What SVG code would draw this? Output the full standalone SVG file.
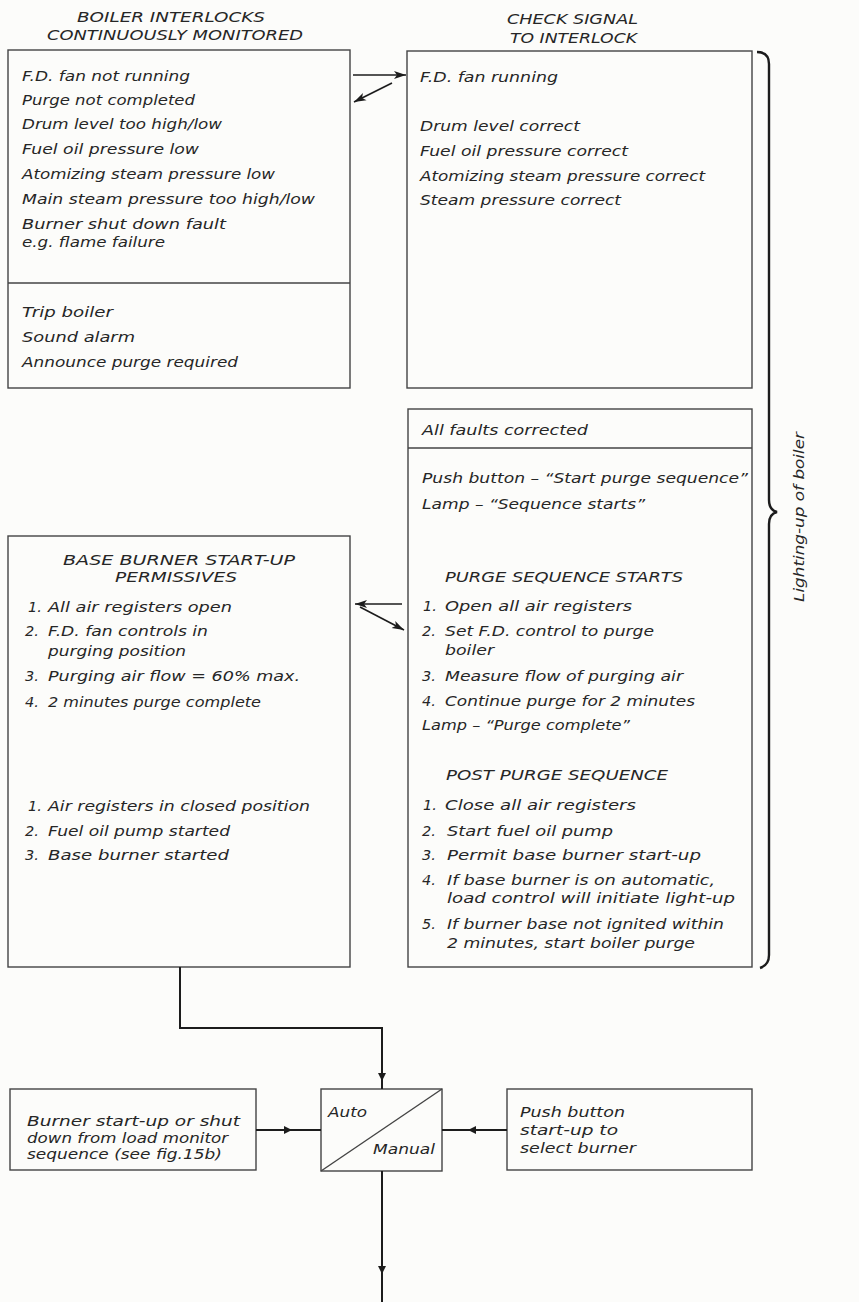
<svg xmlns="http://www.w3.org/2000/svg" width="859" height="1302" viewBox="0 0 859 1302">
<style>
.t{font-family:"DejaVu Sans","Liberation Sans",sans-serif;font-style:italic;font-size:14.5px;fill:#262626}
.s{font-size:13.5px}
.box{fill:none;stroke:#444;stroke-width:1.4}
.conn{stroke:#1c1c1c;stroke-width:2;fill:none}
.thin{stroke:#1c1c1c;stroke-width:1.6;fill:none}
.brace{stroke:#1c1c1c;stroke-width:2.4;fill:none}
.head{fill:#1c1c1c}
.mid{text-anchor:middle}
</style>
<defs>
<marker id="ah" viewBox="0 0 12 10" refX="12" refY="5" markerWidth="12" markerHeight="10" markerUnits="userSpaceOnUse" orient="auto">
<path d="M0,1 L12,5 L0,9 L3,5 Z" fill="#1c1c1c"/>
</marker>
</defs>
<rect x="0" y="0" width="859" height="1302" fill="#fcfcfa"/>

<g id="title-interlocks">
<text class="t mid" x="171" y="22" textLength="188" lengthAdjust="spacingAndGlyphs">BOILER INTERLOCKS</text>
<text class="t mid" x="175" y="40" textLength="256" lengthAdjust="spacingAndGlyphs">CONTINUOUSLY MONITORED</text>
</g>
<g id="title-check">
<text class="t" x="507" y="24" textLength="131" lengthAdjust="spacingAndGlyphs">CHECK SIGNAL</text>
<text class="t" x="510" y="43" textLength="127" lengthAdjust="spacingAndGlyphs">TO INTERLOCK</text>
</g>

<g id="interlocks">
<rect class="box" x="8" y="50" width="342" height="338"/>
<line class="box" x1="8" y1="283" x2="350" y2="283"/>
<text class="t" x="22" y="81" textLength="168" lengthAdjust="spacingAndGlyphs">F.D. fan not running</text>
<text class="t" x="22" y="105" textLength="173" lengthAdjust="spacingAndGlyphs">Purge not completed</text>
<text class="t" x="22" y="129" textLength="200" lengthAdjust="spacingAndGlyphs">Drum level too high/low</text>
<text class="t" x="22" y="154" textLength="177" lengthAdjust="spacingAndGlyphs">Fuel oil pressure low</text>
<text class="t" x="22" y="179" textLength="253" lengthAdjust="spacingAndGlyphs">Atomizing steam pressure low</text>
<text class="t" x="22" y="204" textLength="293" lengthAdjust="spacingAndGlyphs">Main steam pressure too high/low</text>
<text class="t" x="22" y="229" textLength="204" lengthAdjust="spacingAndGlyphs">Burner shut down fault</text>
<text class="t" x="22" y="247" textLength="143" lengthAdjust="spacingAndGlyphs">e.g. flame failure</text>
<text class="t" x="22" y="317" textLength="91" lengthAdjust="spacingAndGlyphs">Trip boiler</text>
<text class="t" x="22" y="342" textLength="113" lengthAdjust="spacingAndGlyphs">Sound alarm</text>
<text class="t" x="22" y="367" textLength="216" lengthAdjust="spacingAndGlyphs">Announce purge required</text>
</g>

<g id="check-signal">
<rect class="box" x="407" y="51" width="345" height="337"/>
<text class="t" x="420" y="82" textLength="138" lengthAdjust="spacingAndGlyphs">F.D. fan running</text>
<text class="t" x="420" y="131" textLength="160" lengthAdjust="spacingAndGlyphs">Drum level correct</text>
<text class="t" x="420" y="156" textLength="208" lengthAdjust="spacingAndGlyphs">Fuel oil pressure correct</text>
<text class="t" x="420" y="181" textLength="285" lengthAdjust="spacingAndGlyphs">Atomizing steam pressure correct</text>
<text class="t" x="420" y="205" textLength="201" lengthAdjust="spacingAndGlyphs">Steam pressure correct</text>
</g>

<g id="purge-sequence">
<rect class="box" x="408" y="409" width="344" height="558"/>
<line class="box" x1="408" y1="448" x2="752" y2="448"/>
<text class="t" x="422" y="435" textLength="166" lengthAdjust="spacingAndGlyphs">All faults corrected</text>
<text class="t" x="422" y="483" textLength="326" lengthAdjust="spacingAndGlyphs">Push button – “Start purge sequence”</text>
<text class="t" x="422" y="509" textLength="223" lengthAdjust="spacingAndGlyphs">Lamp – “Sequence starts”</text>
<text class="t" x="445" y="582" textLength="238" lengthAdjust="spacingAndGlyphs">PURGE SEQUENCE STARTS</text>
<text class="t" x="423" y="611">1.</text>
<text class="t" x="445" y="611" textLength="187" lengthAdjust="spacingAndGlyphs">Open all air registers</text>
<text class="t" x="422" y="636">2.</text>
<text class="t" x="445" y="636" textLength="209" lengthAdjust="spacingAndGlyphs">Set F.D. control to purge</text>
<text class="t" x="445" y="655" textLength="49" lengthAdjust="spacingAndGlyphs">boiler</text>
<text class="t" x="422" y="681">3.</text>
<text class="t" x="445" y="681" textLength="238" lengthAdjust="spacingAndGlyphs">Measure flow of purging air</text>
<text class="t" x="422" y="706">4.</text>
<text class="t" x="445" y="706" textLength="250" lengthAdjust="spacingAndGlyphs">Continue purge for 2 minutes</text>
<text class="t" x="422" y="730" textLength="208" lengthAdjust="spacingAndGlyphs">Lamp – “Purge complete”</text>
<text class="t" x="446" y="780" textLength="222" lengthAdjust="spacingAndGlyphs">POST PURGE SEQUENCE</text>
<text class="t" x="423" y="810">1.</text>
<text class="t" x="445" y="810" textLength="191" lengthAdjust="spacingAndGlyphs">Close all air registers</text>
<text class="t" x="422" y="836">2.</text>
<text class="t" x="447" y="836" textLength="166" lengthAdjust="spacingAndGlyphs">Start fuel oil pump</text>
<text class="t" x="422" y="860">3.</text>
<text class="t" x="447" y="860" textLength="254" lengthAdjust="spacingAndGlyphs">Permit base burner start-up</text>
<text class="t" x="422" y="885">4.</text>
<text class="t" x="447" y="885" textLength="268" lengthAdjust="spacingAndGlyphs">If base burner is on automatic,</text>
<text class="t" x="447" y="903" textLength="288" lengthAdjust="spacingAndGlyphs">load control will initiate light-up</text>
<text class="t" x="422" y="929">5.</text>
<text class="t" x="447" y="929" textLength="277" lengthAdjust="spacingAndGlyphs">If burner base not ignited within</text>
<text class="t" x="447" y="948" textLength="248" lengthAdjust="spacingAndGlyphs">2 minutes, start boiler purge</text>
</g>

<g id="base-burner">
<rect class="box" x="8" y="536" width="342" height="431"/>
<text class="t" x="63" y="565" textLength="232" lengthAdjust="spacingAndGlyphs">BASE BURNER START-UP</text>
<text class="t" x="115" y="582" textLength="122" lengthAdjust="spacingAndGlyphs">PERMISSIVES</text>
<text class="t" x="28" y="612">1.</text>
<text class="t" x="48" y="612" textLength="184" lengthAdjust="spacingAndGlyphs">All air registers open</text>
<text class="t" x="25" y="636">2.</text>
<text class="t" x="48" y="636" textLength="160" lengthAdjust="spacingAndGlyphs">F.D. fan controls in</text>
<text class="t" x="48" y="656" textLength="138" lengthAdjust="spacingAndGlyphs">purging position</text>
<text class="t" x="25" y="681">3.</text>
<text class="t" x="48" y="681" textLength="252" lengthAdjust="spacingAndGlyphs">Purging air flow = 60% max.</text>
<text class="t" x="25" y="707">4.</text>
<text class="t" x="48" y="707" textLength="213" lengthAdjust="spacingAndGlyphs">2 minutes purge complete</text>
<text class="t" x="28" y="811">1.</text>
<text class="t" x="48" y="811" textLength="262" lengthAdjust="spacingAndGlyphs">Air registers in closed position</text>
<text class="t" x="25" y="836">2.</text>
<text class="t" x="48" y="836" textLength="182" lengthAdjust="spacingAndGlyphs">Fuel oil pump started</text>
<text class="t" x="25" y="860">3.</text>
<text class="t" x="48" y="860" textLength="181" lengthAdjust="spacingAndGlyphs">Base burner started</text>
</g>

<g id="lighting-up">
<path class="brace" d="M757 52 Q769 52 769 64 L769 500 Q769 510 777 512 Q769 514 769 524 L769 955 Q769 965 760 968"/>
<text class="t mid" x="0" y="0" textLength="170" lengthAdjust="spacingAndGlyphs" transform="translate(804 517) rotate(-90)">Lighting-up of boiler</text>
</g>

<g id="load-monitor">
<rect class="box" x="10" y="1089" width="246" height="81"/>
<text class="t s" x="27" y="1126" textLength="213" lengthAdjust="spacingAndGlyphs">Burner start-up or shut</text>
<text class="t s" x="27" y="1143" textLength="201" lengthAdjust="spacingAndGlyphs">down from load monitor</text>
<text class="t s" x="27" y="1159" textLength="195" lengthAdjust="spacingAndGlyphs">sequence (see fig.15b)</text>
</g>

<g id="auto-manual">
<rect class="box" x="321" y="1089" width="121" height="82"/>
<line class="box" x1="321" y1="1171" x2="442" y2="1089"/>
<text class="t s" x="328" y="1117" textLength="39" lengthAdjust="spacingAndGlyphs">Auto</text>
<text class="t s" x="373" y="1154" textLength="62" lengthAdjust="spacingAndGlyphs">Manual</text>
</g>

<g id="push-button">
<rect class="box" x="507" y="1089" width="245" height="81"/>
<text class="t s" x="520" y="1117" textLength="105" lengthAdjust="spacingAndGlyphs">Push button</text>
<text class="t s" x="520" y="1135" textLength="98" lengthAdjust="spacingAndGlyphs">start-up to</text>
<text class="t s" x="520" y="1153" textLength="116" lengthAdjust="spacingAndGlyphs">select burner</text>
</g>

<g id="connectors">
<line class="thin" x1="353" y1="75" x2="406" y2="75" marker-end="url(#ah)"/>
<line class="thin" x1="392" y1="83" x2="354" y2="102" marker-end="url(#ah)"/>
<line class="thin" x1="402" y1="604" x2="355" y2="604" marker-end="url(#ah)"/>
<line class="thin" x1="360" y1="607" x2="404" y2="630" marker-end="url(#ah)"/>
<path class="conn" d="M180 967 V1028 H382 V1089"/>
<polygon class="head" points="378,1073 386,1073 382,1081"/>
<path class="conn" d="M256 1130 H321"/>
<polygon class="head" points="284,1126 284,1134 292,1130"/>
<path class="conn" d="M507 1130 H442"/>
<polygon class="head" points="476,1126 476,1134 468,1130"/>
<path class="conn" d="M382 1171 V1302"/>
<polygon class="head" points="378,1266 386,1266 382,1274"/>
</g>
</svg>
